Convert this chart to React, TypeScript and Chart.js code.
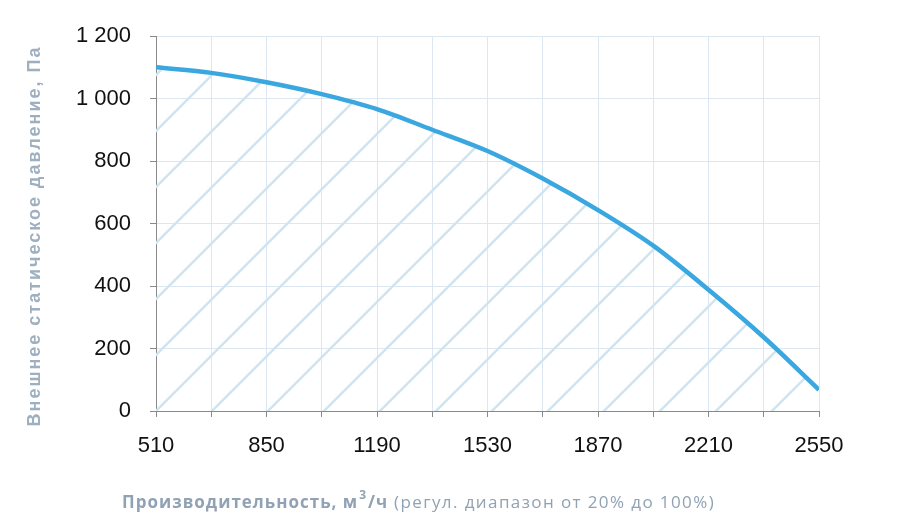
import { useEffect, useRef } from "react";
import { Chart, registerables } from "chart.js";

Chart.register(...registerables);

// Flow (m³/h) and external static pressure (Pa)
const flowValues = [510, 680, 850, 1020, 1190, 1360, 1530, 1700, 1870, 2040, 2210, 2380, 2550];
const pressureValues = [1100, 1082, 1052, 1014, 966, 900, 832, 744, 643, 529, 388, 236, 68];
const xTickLabels = [510, 850, 1190, 1530, 1870, 2210, 2550];
const yTickLabels = ["0", "200", "400", "600", "800", "1 000", "1 200"];

const Y_TITLE = "Внешнее статическое давление, Па";
const X_TITLE_BOLD = "Производительность, м";
const X_TITLE_SUP = "3";
const X_TITLE_UNIT = "/ч";
const X_TITLE_NOTE = " (регул. диапазон от 20% до 100%)";

const NUM_FONT = '"Liberation Sans", Arial, sans-serif';

function makeHatch(): CanvasPattern | string {
  const size = 56;
  const c = document.createElement("canvas");
  c.width = size;
  c.height = size;
  const g = c.getContext("2d");
  if (!g) return "rgba(200,225,240,0.4)";
  g.strokeStyle = "#cfe5f0";
  g.lineWidth = 2.6;
  g.lineCap = "square";
  g.beginPath();
  g.moveTo(0, size);
  g.lineTo(size, 0);
  g.moveTo(-size / 2, size / 2);
  g.lineTo(size / 2, -size / 2);
  g.moveTo(size / 2, size * 1.5);
  g.lineTo(size * 1.5, size / 2);
  g.stroke();
  const p = g.createPattern(c, "repeat");
  if (!p) return "rgba(200,225,240,0.4)";
  p.setTransform(new DOMMatrix().translate(7, 0));
  return p;
}

const titlesPlugin = {
  id: "titles",
  afterDraw(chart: Chart) {
    const ctx = chart.ctx as any;

    // vertical axis title
    ctx.save();
    ctx.translate(35, 236);
    ctx.rotate(-Math.PI / 2);
    ctx.font = 'bold 18px "Liberation Sans", Arial, sans-serif';
    ctx.letterSpacing = "2px";
    ctx.fillStyle = "#9eafc0";
    ctx.textAlign = "center";
    ctx.textBaseline = "middle";
    ctx.fillText(Y_TITLE, 0, 0);
    ctx.restore();

    // horizontal axis title, bold part + superscript + regular note
    ctx.save();
    ctx.fillStyle = "#90a2b3";
    ctx.textBaseline = "alphabetic";
    ctx.textAlign = "left";
    let x = 122;
    const base = 508;
    ctx.letterSpacing = "1px";
    ctx.font = 'bold 17px "Open Sans", sans-serif';
    ctx.fillText(X_TITLE_BOLD, x, base);
    x += ctx.measureText(X_TITLE_BOLD).width + 1;
    ctx.font = 'bold 12px "Open Sans", sans-serif';
    ctx.fillText(X_TITLE_SUP, x, base - 9);
    x += ctx.measureText(X_TITLE_SUP).width + 1;
    ctx.font = 'bold 17px "Open Sans", sans-serif';
    ctx.fillText(X_TITLE_UNIT, x, base);
    x += ctx.measureText(X_TITLE_UNIT).width;
    ctx.letterSpacing = "1.4px";
    ctx.font = '17px "Open Sans", sans-serif';
    ctx.fillText(X_TITLE_NOTE, x, base);
    ctx.restore();
  },
};

export default function App() {
  const canvasRef = useRef<HTMLCanvasElement>(null);

  useEffect(() => {
    if (!canvasRef.current) return;

    const chart = new Chart(canvasRef.current, {
      type: "line",
      data: {
        datasets: [
          {
            data: flowValues.map((f, i) => ({ x: f, y: pressureValues[i] })),
            borderColor: "#3ba7e0",
            borderWidth: 4.5,
            backgroundColor: makeHatch(),
            fill: "origin",
            pointRadius: 0,
            cubicInterpolationMode: "monotone",
          },
        ],
      },
      options: {
        animation: false,
        responsive: true,
        maintainAspectRatio: false,
        layout: { padding: { top: 36, right: 93, bottom: 0, left: 0 } },
        plugins: {
          legend: { display: false },
          tooltip: { enabled: false },
        },
        scales: {
          x: {
            type: "linear",
            min: 510,
            max: 2550,
            afterFit: (s: any) => {
              s.height = 115;
            },
            afterBuildTicks: (s: any) => {
              s.ticks = flowValues.map((v) => ({ value: v }));
            },
            border: { color: "#8a8a8a", width: 1 },
            grid: {
              color: "#dde7f2",
              tickColor: "#8a8a8a",
              tickLength: 6,
            },
            ticks: {
              padding: 16,
              color: "#111",
              font: { family: NUM_FONT, size: 22 },
              maxRotation: 0,
              autoSkip: false,
              callback: (v: any) => (xTickLabels.includes(Number(v)) ? String(v) : ""),
            },
          },
          y: {
            min: 0,
            max: 1200,
            afterFit: (s: any) => {
              s.width = 156;
            },
            border: { color: "#8a8a8a", width: 1 },
            grid: {
              color: "#dde7f2",
              tickColor: "#8a8a8a",
              tickLength: 6,
            },
            ticks: {
              stepSize: 200,
              padding: 19,
              color: "#111",
              font: { family: NUM_FONT, size: 22 },
              callback: (_v: any, i: number) => yTickLabels[i],
            },
          },
        },
      },
      plugins: [titlesPlugin],
    });

    return () => chart.destroy();
  }, []);

  return (
    <div style={{ position: "fixed", left: 0, top: 0, width: 912, height: 526, background: "#fff" }}>
      <canvas ref={canvasRef}></canvas>
    </div>
  );
}
